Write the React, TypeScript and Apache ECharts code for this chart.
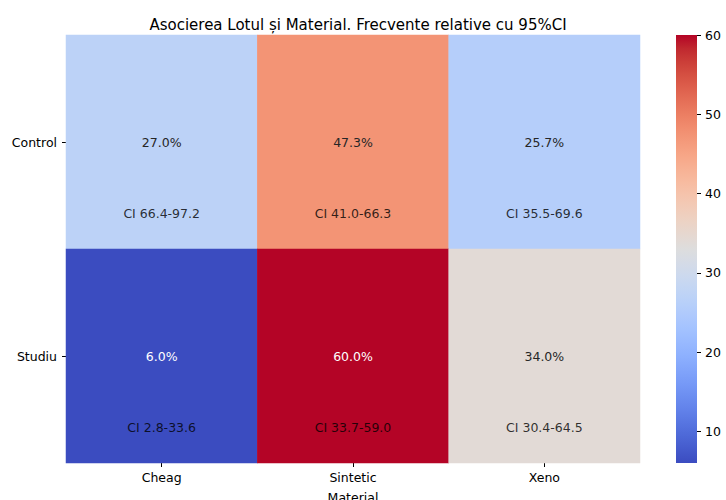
import React, { useEffect, useRef } from "react";
import * as echarts from "echarts";

// ---- data ----
const materials = ["Cheag", "Sintetic", "Xeno"];
const groups = ["Control", "Studiu"];
const percentControl = [27.0, 47.3, 25.7];
const percentStudiu = [6.0, 60.0, 34.0];
const ciControl = ["CI 66.4-97.2", "CI 41.0-66.3", "CI 35.5-69.6"];
const ciStudiu = ["CI 2.8-33.6", "CI 33.7-59.0", "CI 30.4-64.5"];
const colorMin = 6;
const colorMax = 60;
const colorbarTicks = [10, 20, 30, 40, 50, 60];
const titleText = "Asocierea Lotul și Material. Frecvente relative cu 95%CI";
const xAxisName = "Material";

// coolwarm colormap (Moreland), 33 stops
const COOLWARM: number[][] = [
  [59, 76, 192], [68, 90, 204], [77, 104, 215], [87, 117, 225], [98, 130, 234],
  [108, 142, 241], [119, 154, 247], [130, 165, 251], [141, 176, 254], [152, 185, 255],
  [163, 194, 255], [174, 201, 253], [184, 208, 249], [194, 213, 244], [204, 217, 238],
  [213, 219, 230], [221, 221, 221], [229, 216, 209], [236, 211, 197], [241, 204, 185],
  [245, 196, 173], [247, 187, 160], [247, 177, 148], [247, 166, 135], [244, 154, 123],
  [241, 141, 111], [236, 127, 99], [229, 112, 88], [222, 96, 77], [213, 80, 66],
  [203, 62, 56], [192, 40, 47], [180, 4, 38],
];

const toHex = (c: number[]) =>
  "#" + c.map((v) => Math.round(v).toString(16).padStart(2, "0")).join("");

function cmap(t: number): number[] {
  const tt = Math.max(0, Math.min(1, t)) * (COOLWARM.length - 1);
  const i = Math.min(Math.floor(tt), COOLWARM.length - 2);
  const f = tt - i;
  return COOLWARM[i].map((v, k) => v + (COOLWARM[i + 1][k] - v) * f);
}

function textColorFor(value: number): string {
  const rgb = cmap((value - colorMin) / (colorMax - colorMin)).map((v) => {
    const c = v / 255;
    return c <= 0.03928 ? c / 12.92 : Math.pow((c + 0.055) / 1.055, 2.4);
  });
  const lum = 0.2126 * rgb[0] + 0.7152 * rgb[1] + 0.0722 * rgb[2];
  return lum > 0.408 ? "#262626" : "#ffffff";
}

const FONT = "DejaVu Sans";

export default function App() {
  const ref = useRef<HTMLDivElement>(null);

  useEffect(() => {
    if (!ref.current) return;
    const chart = echarts.init(ref.current, null, { renderer: "svg" });

    const rows = [percentControl, percentStudiu];
    const ciRows = [ciControl, ciStudiu];
    const heatData: any[] = [];
    const ciData: any[] = [];
    rows.forEach((row, yi) =>
      row.forEach((v, xi) => {
        heatData.push({ value: [xi, yi, v], label: { color: textColorFor(v) } });
        ciData.push({ value: [xi, yi], name: ciRows[yi][xi] });
      })
    );

    const gradientStops = COOLWARM.map((c, i) => ({
      offset: i / (COOLWARM.length - 1),
      color: toHex(COOLWARM[COOLWARM.length - 1 - i]),
    }));

    chart.setOption({
      animation: false,
      textStyle: { fontFamily: FONT },
      title: {
        text: titleText,
        left: 353,
        top: 12,
        textAlign: "center",
        textStyle: { fontSize: 15, fontWeight: "normal", color: "#000", fontFamily: FONT },
      },
      grid: [
        { left: 66, right: 86, top: 35, bottom: 37, outerBoundsMode: "none", containLabel: false },
        { left: 676, right: 29, top: 35, bottom: 37, outerBoundsMode: "none", containLabel: false },
      ],
      xAxis: [
        {
          gridIndex: 0,
          type: "category",
          data: materials,
          axisLine: { show: false },
          axisTick: { show: true, alignWithLabel: true, length: 4, lineStyle: { color: "#000" } },
          axisLabel: { fontSize: 12.5, color: "#000", margin: 8, fontFamily: FONT },
          splitLine: { show: false },
          name: xAxisName,
          nameLocation: "middle",
          nameGap: 28,
          nameTextStyle: { fontSize: 12.5, color: "#000", fontFamily: FONT },
        },
        { gridIndex: 1, type: "category", data: [""], show: false },
      ],
      yAxis: [
        {
          gridIndex: 0,
          type: "category",
          data: groups,
          inverse: true,
          axisLine: { show: false },
          axisTick: { show: true, alignWithLabel: true, length: 4, lineStyle: { color: "#000" } },
          axisLabel: { fontSize: 12.5, color: "#000", margin: 9, fontFamily: FONT },
          splitLine: { show: false },
        },
        {
          gridIndex: 1,
          type: "value",
          min: colorMin,
          max: colorMax,
          position: "right",
          axisLine: { show: false },
          axisTick: {
            show: true,
            length: 4,
            customValues: colorbarTicks,
            lineStyle: { color: "#000" },
          },
          axisLabel: {
            customValues: colorbarTicks,
            fontSize: 12.5,
            color: "#000",
            margin: 8,
            fontFamily: FONT,
          },
          splitLine: { show: false },
        },
      ],
      visualMap: {
        type: "continuous",
        min: colorMin,
        max: colorMax,
        seriesIndex: 0,
        show: false,
        inRange: { color: COOLWARM.map(toHex) },
      },
      series: [
        {
          type: "heatmap",
          xAxisIndex: 0,
          yAxisIndex: 0,
          data: heatData,
          silent: true,
          label: {
            show: true,
            fontSize: 12.5,
            fontFamily: FONT,
            formatter: (p: any) => p.value[2].toFixed(1) + "%",
          },
          emphasis: { disabled: true },
        },
        {
          type: "scatter",
          xAxisIndex: 0,
          yAxisIndex: 0,
          data: ciData,
          symbolSize: 1,
          silent: true,
          itemStyle: { color: "transparent" },
          label: {
            show: true,
            position: "inside",
            offset: [0, 71],
            fontSize: 12.5,
            color: "#000",
            fontFamily: FONT,
            formatter: (p: any) => p.name,
          },
        },
        {
          type: "bar",
          xAxisIndex: 1,
          yAxisIndex: 1,
          data: [colorMax],
          barWidth: "100%",
          silent: true,
          itemStyle: {
            color: new echarts.graphic.LinearGradient(0, 0, 0, 1, gradientStops),
          },
        },
      ],
    });

    return () => chart.dispose();
  }, []);

  return (
    <div
      ref={ref}
      style={{ position: "absolute", left: 0, top: 0, width: 726, height: 500 }}
    />
  );
}
